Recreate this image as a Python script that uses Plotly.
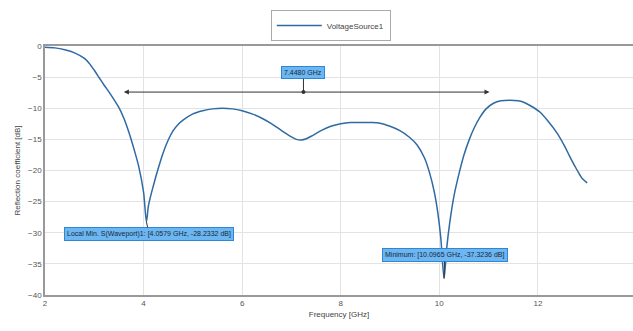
import plotly.graph_objects as go

# S11 sweep of the port fed by VoltageSource1
freq_ghz = [2.0, 2.2, 2.4, 2.6, 2.8, 2.9, 3.0, 3.1, 3.2, 3.3, 3.4, 3.5, 3.6, 3.7, 3.8,
            3.9, 4.0, 4.0579, 4.1, 4.2, 4.3, 4.4, 4.5, 4.6, 4.7, 4.8, 5.0, 5.2, 5.4, 5.6,
            5.8, 6.0, 6.2, 6.4, 6.6, 6.8, 7.0, 7.1, 7.2, 7.3, 7.4, 7.6, 7.8, 8.0, 8.2,
            8.4, 8.6, 8.8, 9.0, 9.2, 9.4, 9.55, 9.7, 9.8, 9.9, 9.97, 10.03, 10.0965,
            10.15, 10.21, 10.3, 10.4, 10.5, 10.6, 10.7, 10.82, 10.95, 11.1, 11.25,
            11.43, 11.6, 11.7, 11.85, 12.04, 12.2, 12.39, 12.55, 12.65, 12.8, 12.9, 13.0]
s11_db = [-0.2, -0.3, -0.6, -1.1, -2.0, -2.8, -3.9, -5.1, -6.3, -7.4, -8.6, -9.9, -11.6,
          -13.8, -16.4, -19.3, -23.5, -28.2332, -25.6, -22.4, -19.6, -17.1, -15.1, -13.6,
          -12.6, -11.9, -10.9, -10.4, -10.1, -10.0, -10.1, -10.4, -10.9, -11.6, -12.5, -13.6,
          -14.6, -15.0, -15.1, -14.9, -14.5, -13.6, -12.9, -12.5, -12.3, -12.3, -12.3,
          -12.4, -12.9, -13.6, -14.7, -15.9, -18.0, -20.3, -23.5, -26.8, -30.8, -37.3236,
          -32.5, -28.5, -24.0, -20.5, -17.5, -15.2, -13.3, -11.5, -10.1, -9.2, -8.8,
          -8.7, -8.8, -9.0, -9.6, -10.6, -12.0, -14.0, -16.2, -17.8, -20.0, -21.3, -22.0]

# Marked extrema
local_min = (4.0579, -28.2332)
global_min = (10.0965, -37.3236)

# -10 dB bandwidth edges
bw_lo, bw_hi = 3.57, 11.018
bw_level = -7.4

x_ticks = [2, 4, 6, 8, 10, 12, 14]
y_ticks = [0, -5, -10, -15, -20, -25, -30, -35, -40]

line_col = "#2f6aa3"
box_fill = "#6cb6f2"
box_edge = "#2f86d6"
font_fam = "Liberation Sans, Arial, sans-serif"

fig = go.Figure()
fig.add_trace(go.Scatter(x=freq_ghz, y=s11_db, mode="lines", name="VoltageSource1",
                         line=dict(color=line_col, width=1.5, shape="spline", smoothing=0.8)))

ann = []
# bandwidth arrow
ann.append(dict(x=bw_hi, y=bw_level, ax=bw_lo, ay=bw_level, xref="x", yref="y",
                axref="x", ayref="y", text="", showarrow=True, arrowhead=2,
                arrowside="end+start", arrowsize=1, arrowwidth=1, arrowcolor="#333"))
bw_mid = (bw_lo + bw_hi) / 2
ann.append(dict(x=bw_mid - 0.05, y=bw_level, ax=bw_mid - 0.05, ay=-4.3, xref="x", yref="y",
                axref="x", ayref="y", text=f"{bw_hi - bw_lo:.4f} GHz", showarrow=True,
                arrowhead=0, arrowwidth=1, arrowcolor="#333",
                font=dict(size=7, color="#1a2a3a", family=font_fam),
                bgcolor=box_fill, bordercolor=box_edge, borderwidth=1, borderpad=2))
ann.append(dict(x=local_min[0], y=local_min[1], ax=4.11, ay=-30.2, xref="x", yref="y",
                axref="x", ayref="y",
                text=f"Local Min. S(Waveport)1: [{local_min[0]:.4f} GHz, {local_min[1]:.4f} dB]",
                showarrow=True, arrowhead=0, arrowwidth=1, arrowcolor="#333",
                font=dict(size=7, color="#1a2a3a", family=font_fam),
                bgcolor=box_fill, bordercolor=box_edge, borderwidth=1, borderpad=2))
ann.append(dict(x=global_min[0], y=global_min[1], ax=10.11, ay=-33.6, xref="x", yref="y",
                axref="x", ayref="y",
                text=f"Minimum: [{global_min[0]:.4f} GHz, {global_min[1]:.4f} dB]",
                showarrow=True, arrowhead=0, arrowwidth=1, arrowcolor="#333",
                font=dict(size=7, color="#1a2a3a", family=font_fam),
                bgcolor=box_fill, bordercolor=box_edge, borderwidth=1, borderpad=2))

# dot where the bandwidth label meets its arrow
fig.add_trace(go.Scatter(x=[bw_mid - 0.05], y=[bw_level], mode="markers", showlegend=False,
                         marker=dict(color="#333", size=4), hoverinfo="skip"))

fig.update_layout(
    width=633, height=331,
    margin=dict(l=45, r=0, t=46, b=36),
    paper_bgcolor="white", plot_bgcolor="white",
    font=dict(family=font_fam, size=8, color="#555"),
    showlegend=True,
    legend=dict(orientation="h", x=0.486, xanchor="center", y=1.145, yanchor="top",
                bordercolor="#aaa", borderwidth=1, bgcolor="white", itemwidth=45,
                font=dict(size=8, color="#444")),
    annotations=ann,
    xaxis=dict(range=[2, 13.93], tickvals=x_ticks, ticks="", showgrid=True,
               gridcolor="#e3e3e3", gridwidth=1, zeroline=False, showline=True,
               linecolor="#999", linewidth=1.5, mirror=True,
               title=dict(text="Frequency [GHz]", font=dict(size=8, color="#444"), standoff=4),
               tickfont=dict(size=8, color="#555")),
    yaxis=dict(range=[-40, 0], tickvals=y_ticks, ticks="", showgrid=True,
               gridcolor="#e3e3e3", gridwidth=1, zeroline=False, showline=True,
               linecolor="#999", linewidth=1.5,
               title=dict(text="Reflection coefficient [dB]", font=dict(size=8, color="#444"),
                          standoff=6),
               tickfont=dict(size=8, color="#555")),
)

fig.write_html("out.html")
